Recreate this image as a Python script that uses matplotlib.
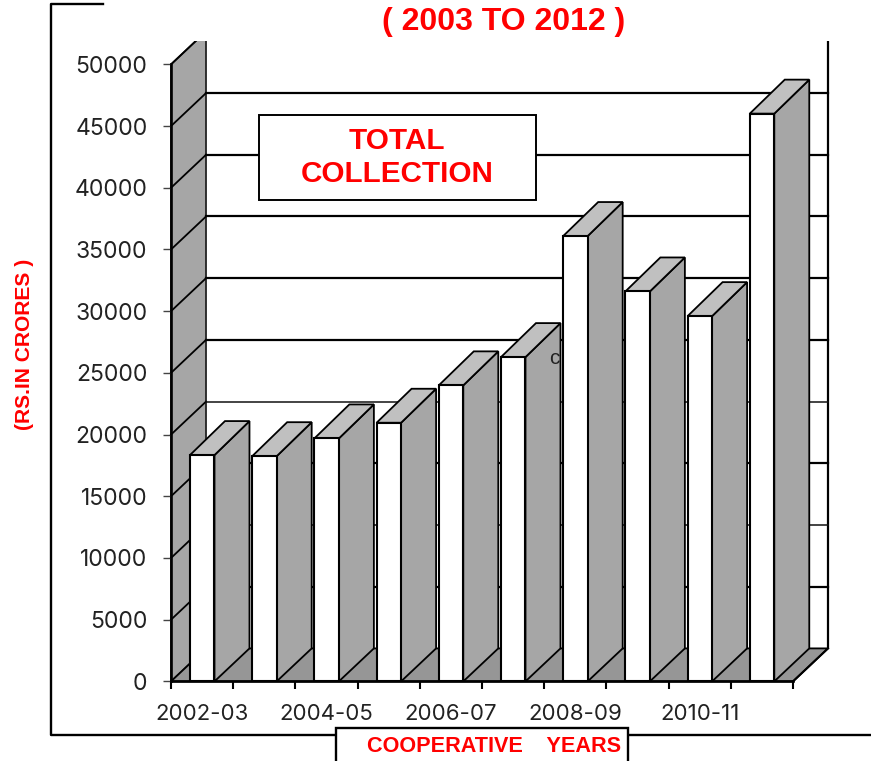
import matplotlib
matplotlib.use("Agg")
import matplotlib.pyplot as plt
from matplotlib.patches import Rectangle
from matplotlib.lines import Line2D

years = ["2002-03", "2003-04", "2004-05", "2005-06", "2006-07",
         "2007-08", "2008-09", "2009-10", "2010-11", "2011-12"]
collection = [18340, 18250, 19690, 20960, 23990, 26280, 36090, 31600, 29600, 46010]
y_ticks = [0, 5000, 10000, 15000, 20000, 25000, 30000, 35000, 40000, 45000, 50000]

W, H = 871, 761
DX, DY = 35 / 62.2, 34 / 617 * 50000
WALL_DY = 33 / 617 * 50000
BAR_OFF, BAR_W = 0.305, 0.394
SIDE, TOP, WALL, FLOOR = "#a6a6a6", "#c0c0c0", "#a6a6a6", "#969696"
RED = "#ff0000"
BOLD = "Liberation Sans"
NUM = "Inter"

fig = plt.figure(figsize=(W / 100, H / 100), dpi=100, facecolor="white")
ax = fig.add_axes([171 / W, (H - 681.4) / H, 622 / W, 617 / H])
ax.set_xlim(0, len(years))
ax.set_ylim(0, 50000)
n = len(years)

# walls and floor
ax.fill([0, DX, DX, 0], [0, WALL_DY, 50000 + WALL_DY, 50000], fc=WALL, ec="#222222", lw=1.3, clip_on=False, zorder=1)
ax.fill([0, n, n + DX, DX], [0, 0, WALL_DY, WALL_DY], fc=FLOOR, ec="black", lw=1.3, clip_on=False, zorder=1)
ax.plot([n + DX, n + DX], [WALL_DY, 50000 + WALL_DY], color="black", lw=1.6, clip_on=False, zorder=1)
ax.plot([n, n + DX], [0, WALL_DY], color="black", lw=1.5, clip_on=False, zorder=1)
for v in y_ticks[1:]:
    thin = v in (10000, 20000)
    ax.plot([0, DX], [v, v + WALL_DY], color="black", lw=1.3, clip_on=False, zorder=1.2)
    ax.plot([DX, n + DX], [v + WALL_DY, v + WALL_DY], color="#111111" if thin else "black",
            lw=1.1 if thin else 1.6, clip_on=False, zorder=1.2)

# bars
for i, v in enumerate(collection):
    x0 = i + BAR_OFF
    x1 = x0 + BAR_W
    z = 3 + i * 0.01
    ax.fill([x1, x1 + DX, x1 + DX, x1], [0, WALL_DY, v + DY, v], fc=SIDE, ec="black", lw=1.3,
            clip_on=False, zorder=z)
    ax.fill([x0, x1, x1 + DX, x0 + DX], [v, v, v + DY, v + DY], fc=TOP, ec="black", lw=1.3,
            clip_on=False, zorder=z)
    ax.bar(x0, v, width=BAR_W, align="edge", fc="white", ec="black", lw=1.5, zorder=z)

# axes
for s in ("top", "right"):
    ax.spines[s].set_visible(False)
for s in ("left", "bottom"):
    ax.spines[s].set_linewidth(1.9)
    ax.spines[s].set_zorder(4)
ax.set_yticks(y_ticks)
ax.set_yticklabels([str(v) for v in y_ticks], fontsize=16.5, family=NUM, color="#222222")
ax.tick_params(axis="y", length=5.5, width=1.0, color="#444444", pad=11.5)
ax.set_xticks(range(n + 1))
ax.set_xticklabels([])
ax.set_xticks([i + 0.5 for i in range(0, n, 2)], minor=True)
ax.set_xticklabels(years[::2], minor=True, fontsize=16, family=NUM, color="#222222")
ax.tick_params(axis="x", which="major", length=5.5, width=1.5, color="black")
ax.tick_params(axis="x", which="minor", length=0, pad=16.5)

# page decoration (figure pixel space)
def px(x, y):
    return x / W, 1 - y / H

fig.add_artist(Rectangle(px(110, 41), (W - 110) / W, 41 / H, fc="white", ec="none", zorder=5))
for xs, ys, in [((103, 51, 51, 336), (4, 4, 735, 735)), ((628, 871), (735, 735))]:
    fig.add_artist(Line2D([x / W for x in xs], [1 - y / H for y in ys], color="black", lw=1.7, zorder=6))
fig.add_artist(Rectangle(px(336, 770), 292 / W, 42 / H, fc="white", ec="black", lw=1.7, zorder=6))
fig.add_artist(Rectangle(px(259, 200), 277 / W, 85 / H, fc="white", ec="black", lw=1.4, zorder=6))

def label(x, y, s, size, **kw):
    fig.text(x / W, 1 - y / H, s, fontsize=size, ha="center", va="center", zorder=7, **kw)

label(504, 22, "( 2003 TO 2012 )", 23, color=RED, weight="bold", family=BOLD)
label(397, 141, "TOTAL", 21.4, color=RED, weight="bold", family=BOLD)
label(397, 174, "COLLECTION", 21.3, color=RED, weight="bold", family=BOLD)
label(24, 344, "(RS.IN CRORES )", 15.1, color=RED, weight="bold", family=BOLD, rotation=90)
label(494, 746, "COOPERATIVE    YEARS", 15.6, color=RED, weight="bold", family=BOLD)
label(554, 358, "c", 15, color="#222222", family=BOLD)

fig.savefig("out.png", dpi=100)
